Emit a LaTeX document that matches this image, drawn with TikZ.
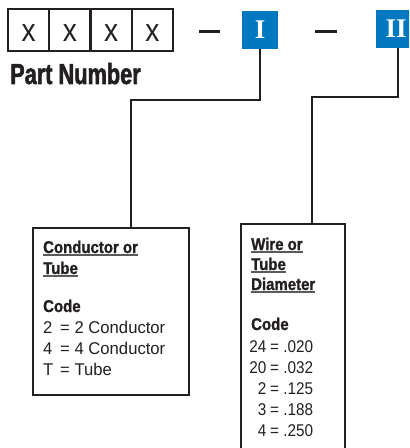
\documentclass[tikz,border=0pt]{standalone}
\usepackage{fontspec}
\setmainfont{Liberation Sans}[FakeStretch=0.98, BoldFeatures={FakeStretch=0.88, FakeBold=1.2}]
\newfontfamily\pnfont{Liberation Sans}[FakeStretch=0.75, BoldFeatures={FakeStretch=0.75, FakeBold=1.8}]
\newfontfamily\xfont{Liberation Sans}[FakeStretch=0.88]
\newfontfamily\nfont{Liberation Sans}[FakeStretch=0.9]
\newfontfamily\romfont{Liberation Serif}
\definecolor{bblue}{HTML}{0077C1}
\definecolor{ink}{HTML}{231F20}
\definecolor{ulgray}{HTML}{5A5A5A}
\newcommand\hdul[1]{\setbox0\hbox{#1}\rlap{\color{ulgray}\rule[-3bp]{\wd0}{1.6bp}}\box0}
\begin{document}
\begin{tikzpicture}[x=1bp,y=-1bp,
  pbox/.style={draw=ink, line width=2bp, minimum width=41.25bp, minimum height=42bp,
    inner sep=0, text=ink, text height=22.6bp, text depth=0bp,
    font=\xfont\fontsize{32bp}{32bp}\selectfont},
  bluebox/.style={fill=bblue, minimum height=38bp, inner sep=0, text=white,
    font=\romfont\bfseries\fontsize{27bp}{27bp}\selectfont},
  codebox/.style={draw=ink, line width=2bp, inner sep=0},
  txt/.style={anchor=base west, inner sep=0, text=ink, font=\fontsize{17bp}{21bp}\selectfont},
  txtn/.style={anchor=base west, inner sep=0, text=ink, font=\nfont\fontsize{17bp}{21bp}\selectfont},
  txtr/.style={txtn, anchor=base east},
  head/.style={txt, font=\bfseries\fontsize{17bp}{21bp}\selectfont},
  link/.style={draw=ink, line width=2bp},
  dashln/.style={draw=ink, line width=2.6bp}]
\useasboundingbox (0,0) rectangle (409,448);
\clip (0,0) rectangle (409,448);
% part number boxes
\node[pbox] (p1) at (28.6,30.5) {x};
\node[pbox] (p2) at (69.9,30.5) {x};
\node[pbox] (p3) at (111.1,30.5) {x};
\node[pbox] (p4) at (152.4,30.5) {x};
\node[anchor=base west, inner sep=0, text=ink, font=\pnfont\bfseries\fontsize{29bp}{29bp}\selectfont] (pn) at (10,84) {Part Number};
% dashes
\coordinate (d1a) at (199,31.5); \coordinate (d1b) at (220,31.5);
\coordinate (d2a) at (315,31.5); \coordinate (d2b) at (337,31.5);
\draw[dashln] (d1a) -- (d1b);
\draw[dashln] (d2a) -- (d2b);
% blue boxes
\node[bluebox, minimum width=36bp] (b1) at (260,30) {I};
\node[bluebox, minimum width=40bp] (b2) at (396,29) {II};
% code boxes
\node[codebox, minimum width=156bp, minimum height=167bp] (boxA) at (111,311.5) {};
\node[codebox, minimum width=104bp, minimum height=236bp] (boxB) at (293,342) {};
% connectors
\coordinate (j1) at (131,100);
\coordinate (j2) at (312,97);
\draw[link] (b1.south) |- (j1) -- (j1 |- boxA.north);
\draw[link] ([xshift=2bp]b2.south) |- (j2) -- (j2 |- boxB.north);
% left box text
\node[head] (a1) at (43,253) {\hdul{Conductor or}};
\node[head] (a2) at (43,274) {\hdul{Tube}};
\node[head] (a3) at (43,312) {Code};
\node[txt] (a4) at (43,333) {2};
\node[txt] (a4r) at (60,333) {= 2 Conductor};
\node[txt] (a5) at (43,354) {4};
\node[txt] (a5r) at (60,354) {= 4 Conductor};
\node[txt] (a6) at (43,375) {T};
\node[txt] (a6r) at (60,375) {= Tube};
% right box text
\node[head] (c1) at (251,250) {\hdul{Wire or}};
\node[head] (c2) at (251,270) {\hdul{Tube}};
\node[head] (c3) at (251,290) {\hdul{Diameter}};
\node[head] (c4) at (251,330) {Code};
\node[txtr] (e1) at (266.5,352) {24};
\node[txtn] (e1r) at (270,352) {= .020};
\node[txtr] (e2) at (266.5,373) {20};
\node[txtn] (e2r) at (270,373) {= .032};
\node[txtr] (e3) at (266.5,394) {2};
\node[txtn] (e3r) at (270,394) {= .125};
\node[txtr] (e4) at (266.5,415) {3};
\node[txtn] (e4r) at (270,415) {= .188};
\node[txtr] (e5) at (266.5,436) {4};
\node[txtn] (e5r) at (270,436) {= .250};
\end{tikzpicture}
\end{document}
